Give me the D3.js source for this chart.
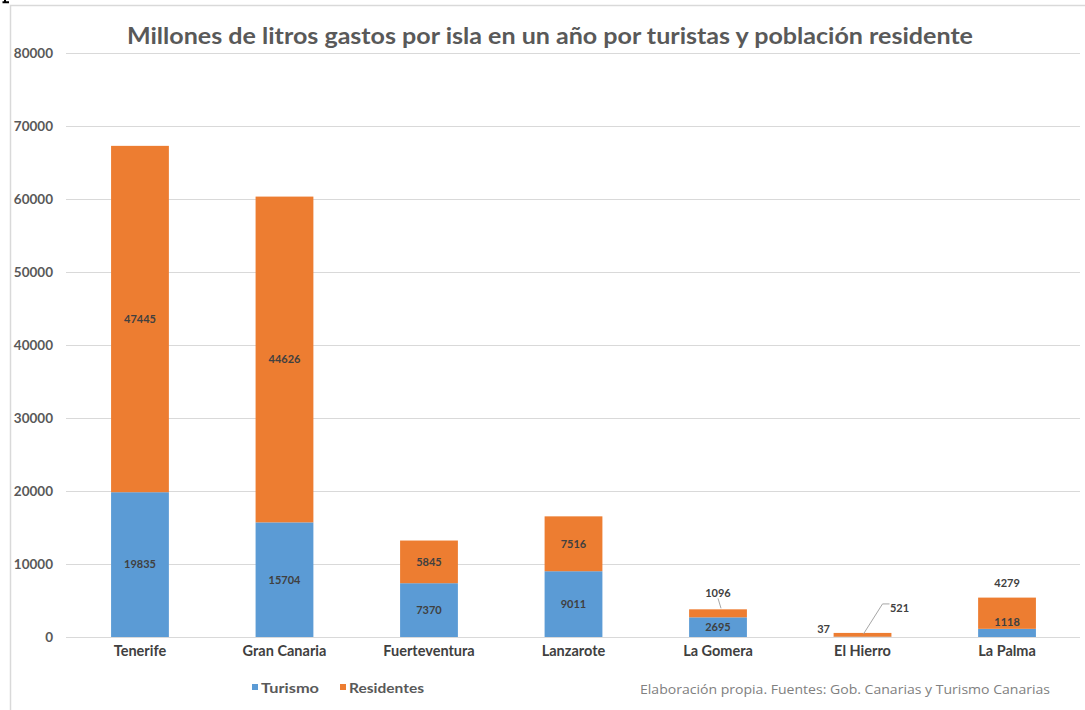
<!DOCTYPE html>
<html>
<head>
<meta charset="utf-8">
<script src="https://cdn.jsdelivr.net/npm/d3@7"></script>
<style>
  html, body { margin: 0; padding: 0; background: #fff; }
  svg { display: block; font-family: Lato, "Open Sans", sans-serif; }
</style>
</head>
<body>
<svg id="chart" width="1085" height="710"></svg>
<script>
// Islands and water use (millions of litres per year)
const islands = ["Tenerife", "Gran Canaria", "Fuerteventura", "Lanzarote", "La Gomera", "El Hierro", "La Palma"];
const turismo = [19835, 15704, 7370, 9011, 2695, 37, 1118];
const residentes = [47445, 44626, 5845, 7516, 1096, 521, 4279];
const yTicks = [0, 10000, 20000, 30000, 40000, 50000, 60000, 70000, 80000];
const seriesNames = ["Turismo", "Residentes"];
const seriesColors = ["#5b9bd5", "#ed7d31"];

const titleText = "Millones de litros gastos por isla en un año por turistas y población residente";
const sourceText = "Elaboración propia. Fuentes: Gob. Canarias y Turismo Canarias";

const svg = d3.select("#chart");

// outer frame of the chart area
svg.append("path")
  .attr("d", "M10.5,712 V5.5 H1090")
  .attr("fill", "none")
  .attr("stroke", "#d9d9d9")
  .attr("stroke-width", 1.5);

// small dark mark above the frame corner
svg.append("path")
  .attr("d", "M5,0 V2 M2.5,2.2 H9")
  .attr("stroke", "#000")
  .attr("stroke-width", 2)
  .attr("fill", "none");

const x = d3.scaleBand().domain(islands).range([67, 1080]).paddingInner(0.6).paddingOuter(0.305);
const y = d3.scaleLinear().domain([0, 80000]).range([637, 53]);

// gridlines
svg.append("g").selectAll("line").data(yTicks).join("line")
  .attr("x1", 66).attr("x2", 1080)
  .attr("y1", d => Math.round(y(d)) + 0.5).attr("y2", d => Math.round(y(d)) + 0.5)
  .attr("stroke", "#d9d9d9").attr("stroke-width", 1);

// y axis labels
const yAxis = d3.axisLeft(y).tickValues(yTicks).tickSize(0).tickPadding(0).tickFormat(d3.format("d"));
const gy = svg.append("g").attr("transform", "translate(53,0)").call(yAxis);
gy.select(".domain").remove();
gy.selectAll("text")
  .attr("font-family", "Lato, sans-serif")
  .attr("font-size", 13.5).attr("font-weight", "bold").attr("fill", "#595959");

// x axis labels
const xAxis = d3.axisBottom(x).tickSize(0).tickPadding(0);
const gx = svg.append("g").attr("transform", "translate(0,646)").call(xAxis);
gx.select(".domain").remove();
gx.selectAll("text")
  .attr("font-family", "Lato, sans-serif")
  .attr("font-size", 14.5).attr("font-weight", "bold").attr("fill", "#404040");

// stacked bars
const rows = islands.map((isla, i) => ({ isla, Turismo: turismo[i], Residentes: residentes[i] }));
const stacked = d3.stack().keys(seriesNames)(rows);

svg.append("g").selectAll("g").data(stacked).join("g")
  .attr("fill", (d, i) => seriesColors[i])
  .selectAll("rect").data(d => d).join("rect")
  .attr("x", d => x(d.data.isla))
  .attr("width", x.bandwidth())
  .attr("y", d => y(d[1]))
  .attr("height", d => y(d[0]) - y(d[1]));

// data labels
const labelG = svg.append("g")
  .attr("font-family", "Lato, sans-serif")
  .attr("font-size", 11).attr("font-weight", "bold").attr("fill", "#404040")
  .attr("text-anchor", "middle");

const cx = isla => x(isla) + x.bandwidth() / 2;

stacked.forEach(series => {
  series.forEach(d => {
    const isla = d.data.isla;
    const v = d.data[series.key];
    let lx = cx(isla);
    let ly = y((d[0] + d[1]) / 2);
    if (isla === "La Gomera" && series.key === "Residentes") {
      ly = y(d[1]) - 16;
      labelG.append("path")
        .attr("d", `M${lx},${ly + 5} L${lx + 3},${y(d[1]) - 1}`)
        .attr("stroke", "#a6a6a6").attr("fill", "none");
    } else if (isla === "El Hierro" && series.key === "Turismo") {
      lx = x(isla) - 10;
      ly = y(d[1]) - 8;
    } else if (isla === "El Hierro" && series.key === "Residentes") {
      lx = cx(isla) + 37;
      ly = y(d[1]) - 25;
      labelG.append("path")
        .attr("d", `M${cx(isla) + 1},${y(d[1]) + 1} L${cx(isla) + 20},${ly - 4} H${cx(isla) + 27}`)
        .attr("stroke", "#a6a6a6").attr("fill", "none");
    } else if (isla === "La Palma" && series.key === "Residentes") {
      ly = y(d[1]) - 14;
    } else if (isla === "La Palma" && series.key === "Turismo") {
      ly = y(d[1]) - 7;
    }
    labelG.append("text")
      .attr("x", lx).attr("y", ly).attr("dy", "0.35em")
      .text(v);
  });
});

// title
svg.append("text")
  .attr("x", 550).attr("y", 44)
  .attr("text-anchor", "middle")
  .attr("font-family", "Lato, sans-serif")
  .attr("font-size", 23).attr("font-weight", "bold").attr("fill", "#595959")
  .attr("textLength", 846).attr("lengthAdjust", "spacingAndGlyphs")
  .text(titleText);

// legend
const legend = svg.append("g").attr("font-family", "Lato, sans-serif")
  .attr("font-size", 14).attr("font-weight", "bold").attr("fill", "#595959");
const legendX = [252, 340];
const legendW = [58, 75];
seriesNames.forEach((name, i) => {
  legend.append("rect").attr("x", legendX[i]).attr("y", 684).attr("width", 6).attr("height", 6)
    .attr("fill", seriesColors[i]);
  legend.append("text").attr("x", legendX[i] + 9).attr("y", 692.5)
    .attr("textLength", legendW[i]).attr("lengthAdjust", "spacingAndGlyphs")
    .text(name);
});

// source note
svg.append("text")
  .attr("x", 1050).attr("y", 694)
  .attr("text-anchor", "end")
  .attr("font-family", "'Open Sans', sans-serif")
  .attr("font-size", 12.5).attr("fill", "#808080")
  .attr("textLength", 410).attr("lengthAdjust", "spacingAndGlyphs")
  .text(sourceText);
</script>
</body>
</html>
